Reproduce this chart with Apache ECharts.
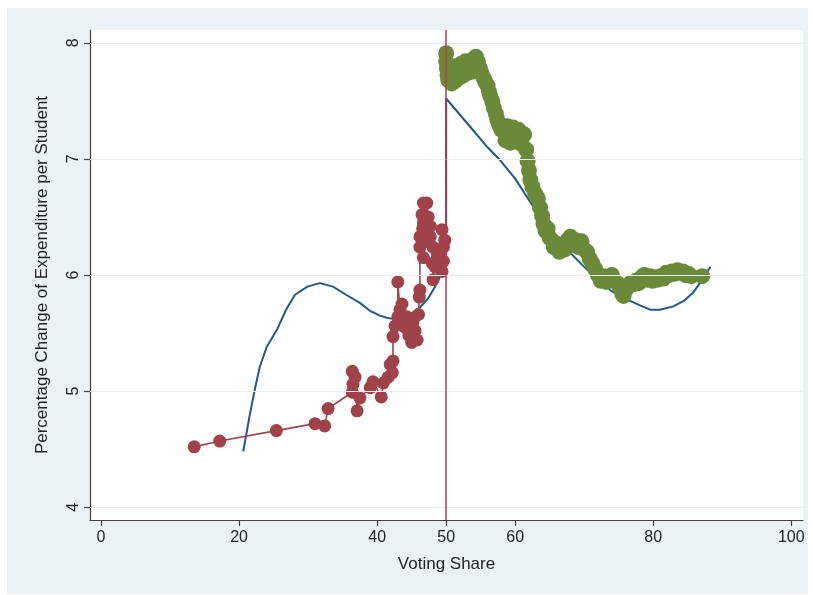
<!DOCTYPE html>
<html>
<head>
<meta charset="utf-8">
<script src="https://cdn.jsdelivr.net/npm/echarts@6/dist/echarts.min.js"></script>
<style>
  html, body { margin: 0; padding: 0; background: #ffffff; }
  #bg { position: absolute; left: 7px; top: 8px; width: 801px; height: 586px; background: #eaf2f3; }
  #chart { position: absolute; left: 0; top: 0; width: 813px; height: 595px; }
</style>
</head>
<body>
<div id="bg"></div>
<div id="chart"></div>
<script>
// ---- Data ----
const xTicks = [0, 20, 40, 50, 60, 80, 100];
const yTicks = [4, 5, 6, 7, 8];
const cutoff = 50;

// fitted polynomial curve (left + right of cutoff)
const fitX = [20.6, 21.5, 22.3, 23.0, 24.0, 25.5, 26.8, 28.1, 29.9, 31.7, 33.6, 35.5, 37.5, 39.0, 40.4, 41.5, 42.6, 43.8, 45.0, 46.2, 47.4, 48.4, 49.4, 50.0,
              50.0, 52.0, 54.0, 56.0, 57.8, 60.0, 62.6, 65.0, 67.5, 70.0, 72.3, 74.0, 76.2, 78.0, 79.6, 81.0, 82.9, 84.5, 85.8, 87.0, 88.3];
const fitY = [4.48, 4.78, 5.02, 5.21, 5.38, 5.53, 5.70, 5.83, 5.90, 5.93, 5.90, 5.83, 5.76, 5.69, 5.65, 5.63, 5.62, 5.64, 5.67, 5.72, 5.80, 5.90, 6.02, 6.12,
              7.52, 7.38, 7.24, 7.10, 6.99, 6.83, 6.59, 6.40, 6.22, 6.07, 5.94, 5.86, 5.79, 5.74, 5.70, 5.70, 5.73, 5.78, 5.85, 5.95, 6.07];

// left of cutoff (red)
const leftX = [13.5, 17.2, 25.4, 31.0, 32.4, 32.9, 36.4, 36.4, 36.5, 36.8, 37.1, 37.5, 39.0, 39.4, 40.6, 40.9, 41.6, 41.9, 42.2, 42.3,
               42.3, 42.6, 43.0, 43.0, 43.3, 43.6, 44.0, 44.3, 44.6, 45.0, 45.2, 45.2, 45.5, 45.8, 46.0, 46.1, 46.2, 46.2, 46.2, 46.5,
               46.6, 46.7, 46.7, 46.7, 47.0, 47.2, 47.4, 47.7, 47.7, 48.0, 48.1, 48.1, 48.4, 48.7, 49.1, 49.4, 49.4, 49.6, 49.6, 49.8];
const leftY = [4.52, 4.57, 4.66, 4.72, 4.70, 4.85, 4.99, 5.17, 5.06, 5.12, 4.83, 4.94, 5.03, 5.08, 4.95, 5.07, 5.12, 5.23, 5.16, 5.26,
               5.47, 5.56, 5.64, 5.94, 5.70, 5.75, 5.55, 5.64, 5.48, 5.42, 5.60, 5.50, 5.52, 5.44, 5.66, 5.81, 5.87, 6.33, 6.24, 6.52,
               6.40, 6.62, 6.45, 6.15, 6.29, 6.62, 6.50, 6.33, 6.42, 6.10, 6.24, 5.96, 6.07, 6.20, 6.18, 6.39, 6.03, 6.24, 6.12, 6.30];

// right of cutoff (green)
const rightX = [50.0, 50.0, 50.1, 50.2, 50.3, 50.4, 50.6, 50.8, 51.0, 51.3, 51.6, 51.9, 52.2, 52.5, 52.8, 53.1, 53.4, 53.7, 54.0, 54.3,
                54.6, 54.9, 55.1, 55.4, 55.7, 56.0, 56.2, 56.4, 56.7, 56.9, 57.2, 57.4, 57.7, 58.0, 58.3, 58.6, 58.9, 59.3, 59.7, 60.1,
                60.5, 60.9, 61.3, 61.6, 61.8, 62.0, 62.2, 62.5, 62.9, 63.3, 63.6, 63.9, 64.1, 64.4, 64.7, 65.0, 65.3, 65.6, 66.0, 66.4,
                66.8, 67.2, 67.6, 68.0, 68.4, 68.8, 69.2, 69.6, 70.0, 70.4, 70.8, 71.2, 71.6, 72.0, 72.4, 72.8, 73.2, 73.6, 74.0, 74.4,
                74.8, 75.2, 75.5, 75.7, 76.0, 76.3, 76.7, 77.1, 77.5, 77.9, 78.3, 78.7, 79.1, 79.5, 79.9, 80.3, 80.7, 81.1, 81.5, 81.9,
                82.3, 82.7, 83.1, 83.5, 83.9, 84.3, 84.7, 85.1, 85.5, 87.1];
const rightY = [7.91, 7.84, 7.78, 7.72, 7.68, 7.80, 7.72, 7.65, 7.76, 7.67, 7.80, 7.70, 7.82, 7.72, 7.84, 7.74, 7.82, 7.75, 7.86, 7.88,
                7.84, 7.78, 7.74, 7.70, 7.66, 7.63, 7.58, 7.54, 7.49, 7.44, 7.39, 7.34, 7.29, 7.25, 7.28, 7.16, 7.28, 7.14, 7.27, 7.15,
                7.25, 7.13, 7.21, 7.08, 6.98, 6.90, 6.82, 6.76, 6.70, 6.66, 6.58, 6.51, 6.44, 6.38, 6.40, 6.32, 6.30, 6.24, 6.27, 6.20,
                6.24, 6.22, 6.30, 6.33, 6.26, 6.30, 6.24, 6.29, 6.22, 6.20, 6.14, 6.10, 6.05, 6.00, 5.95, 5.99, 5.94, 5.98, 6.00, 5.95,
                5.93, 5.89, 5.84, 5.82, 5.87, 5.90, 5.93, 5.92, 5.95, 5.93, 5.98, 6.00, 5.96, 5.99, 5.95, 5.98, 5.96, 5.99, 5.97, 6.02,
                6.00, 6.03, 6.01, 6.04, 6.02, 6.03, 6.00, 6.01, 5.99, 5.99];

const zip = (a, b) => a.map((v, i) => [v, b[i]]);

const FONT = 'Liberation Sans, Arial, Helvetica, sans-serif';
const chart = echarts.init(document.getElementById('chart'), null, { renderer: 'canvas' });

const tickLine = { color: '#444', width: 1.2 };
const labelStyle = { fontFamily: FONT, fontSize: 16, color: '#222' };

chart.setOption({
  animation: false,
  backgroundColor: 'transparent',
  grid: {
    left: 90, right: 10, top: 30, bottom: 75,
    show: true, backgroundColor: '#ffffff', borderWidth: 0,
    containLabel: false, outerBoundsMode: 'none'
  },
  xAxis: {
    type: 'value', min: -1.6, max: 101.7,
    name: 'Voting Share', nameLocation: 'middle', nameGap: 36,
    nameTextStyle: { fontFamily: FONT, fontSize: 17, color: '#222' },
    axisLine: { show: true, onZero: false, lineStyle: tickLine },
    axisTick: { show: true, length: 6, customValues: xTicks, lineStyle: tickLine },
    axisLabel: Object.assign({ customValues: xTicks, margin: 10, hideOverlap: false }, labelStyle),
    splitLine: { show: false }
  },
  yAxis: {
    type: 'value', min: 3.89, max: 8.11,
    name: 'Percentage Change of Expenditure per Student', nameLocation: 'middle', nameGap: 39,
    nameTextStyle: { fontFamily: FONT, fontSize: 17, color: '#222' },
    axisLine: { show: true, onZero: false, lineStyle: tickLine },
    axisTick: { show: true, length: 6, customValues: yTicks, lineStyle: tickLine },
    axisLabel: Object.assign({ customValues: yTicks, rotate: 90, margin: 8, hideOverlap: false }, labelStyle),
    splitLine: { show: false }
  },
  series: [
    {
      type: 'line', data: [], silent: true, z: 1,
      markLine: {
        silent: true, symbol: 'none', label: { show: false },
        lineStyle: { type: 'solid' },
        data: yTicks.map(v => ({ yAxis: v, lineStyle: { color: '#e8eef0', width: 1.2 } }))
          .concat([{ xAxis: cutoff, lineStyle: { color: '#c2344f', width: 1.5 } }])
      }
    },
    {
      type: 'line', data: zip(fitX, fitY), showSymbol: false, symbol: 'none', z: 2,
      lineStyle: { color: '#1f5a88', width: 2 }
    },
    {
      type: 'line', data: zip(leftX, leftY), symbol: 'circle', symbolSize: 13, showSymbol: true, z: 3,
      itemStyle: { color: '#a0424a' }, lineStyle: { color: '#a0424a', width: 1.6 }
    },
    {
      type: 'line', data: zip(rightX, rightY), symbol: 'circle', symbolSize: 16, showSymbol: true, z: 3,
      itemStyle: { color: '#6a8a3a' }, lineStyle: { color: '#6a8a3a', width: 1.6 }
    }
  ]
});
</script>
</body>
</html>
